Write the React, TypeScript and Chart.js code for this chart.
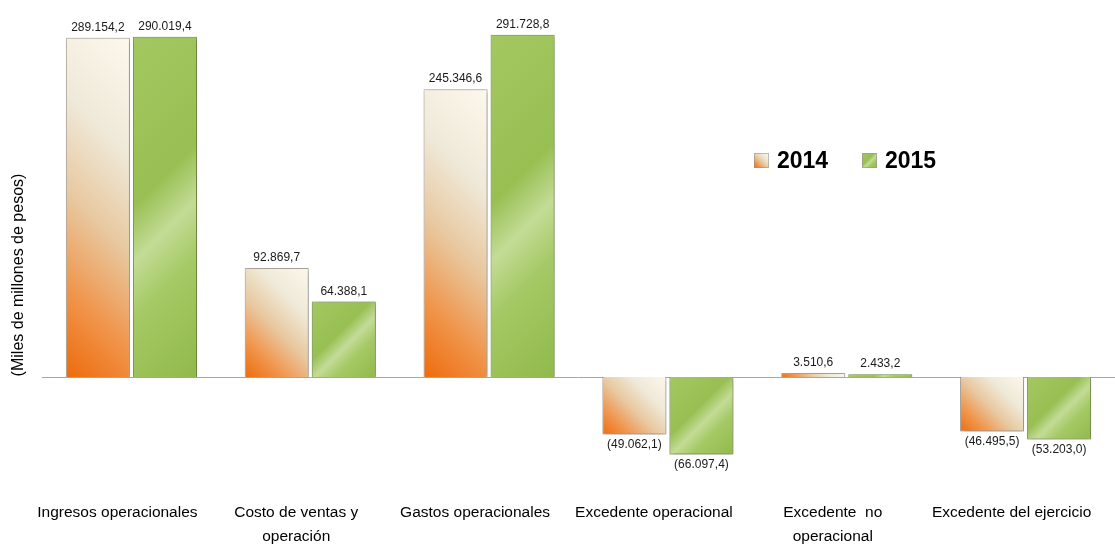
import React, { useEffect, useRef } from "react";
import { Chart, registerables } from "chart.js";

Chart.register(...registerables);

const categories: string[][] = [
  ["Ingresos operacionales"],
  ["Costo de ventas y", "operación"],
  ["Gastos operacionales"],
  ["Excedente operacional"],
  ["Excedente  no", "operacional"],
  ["Excedente del ejercicio"],
];
const seriesNames = ["2014", "2015"];
const values2014 = [289154.2, 92869.7, 245346.6, -49062.1, 3510.6, -46495.5];
const values2015 = [290019.4, 64388.1, 291728.8, -66097.4, 2433.2, -53203.0];
const yTitle = "(Miles de millones de pesos)";

const CAT_PCT = 0.75;
const BAR_PCT = 0.955;

function fmt(v: number): string {
  const abs = Math.abs(v);
  const [i, d] = abs.toFixed(1).split(".");
  const ii = i.replace(/\B(?=(\d{3})+(?!\d))/g, ".");
  const s = ii + "," + d;
  return v < 0 ? "(" + s + ")" : s;
}

function orangeGrad(ctx: CanvasRenderingContext2D, x0: number, yTop: number, w: number, h: number) {
  const d = (w + h) / 2;
  const yBot = yTop + h;
  const g = ctx.createLinearGradient(x0, yBot, x0 + d, yBot - d);
  g.addColorStop(0, "#EE6A0A");
  g.addColorStop(0.22, "#F0944A");
  g.addColorStop(0.46, "#E8C8A0");
  g.addColorStop(0.7, "#EFE9D8");
  g.addColorStop(1, "#FCF8EC");
  return g;
}

function greenGrad(ctx: CanvasRenderingContext2D, x0: number, yTop: number, w: number, h: number) {
  const d = (w + h) / 2;
  const g = ctx.createLinearGradient(x0, yTop, x0 + d, yTop + d);
  g.addColorStop(0, "#A3C862");
  g.addColorStop(0.42, "#98BF52");
  g.addColorStop(0.56, "#C3DC96");
  g.addColorStop(0.7, "#A5C965");
  g.addColorStop(1, "#90B94A");
  return g;
}

function barFill(dsIndex: number) {
  return (c: any) => {
    const chart = c.chart;
    const xs = chart.scales?.x;
    const ys = chart.scales?.y;
    if (!xs || !ys || c.type !== "data" || !chart.chartArea) {
      return dsIndex === 0 ? "#F0A060" : "#9DC35A";
    }
    const v = c.raw as number;
    const center = xs.getPixelForValue(c.dataIndex);
    const catW = xs.width / categories.length;
    const slot = (catW * CAT_PCT) / 2;
    const x0 = dsIndex === 0 ? center - slot : center;
    const yTop = ys.getPixelForValue(Math.max(v, 0));
    const yBot = ys.getPixelForValue(Math.min(v, 0));
    const h = Math.max(1, yBot - yTop);
    return dsIndex === 0
      ? orangeGrad(chart.ctx, x0, yTop, slot, h)
      : greenGrad(chart.ctx, x0, yTop, slot, h);
  };
}

const decorPlugin = {
  id: "decor",
  beforeDatasetsDraw(chart: any) {
    const { ctx, chartArea } = chart;
    const ys = chart.scales.y;
    const y0 = Math.round(ys.getPixelForValue(0)) + 0.5;
    ctx.save();
    ctx.strokeStyle = "#A6A6A6";
    ctx.lineWidth = 1;
    ctx.beginPath();
    ctx.moveTo(chartArea.left, y0);
    ctx.lineTo(chartArea.right, y0);
    ctx.stroke();
    ctx.restore();
    ctx.save();
    ctx.shadowColor = "rgba(0,0,0,0.4)";
    ctx.shadowBlur = 5;
    ctx.shadowOffsetX = 1;
    ctx.shadowOffsetY = 1;
  },
  afterDatasetsDraw(chart: any) {
    const { ctx } = chart;
    ctx.restore();
    ctx.save();
    ctx.font = "12px 'Liberation Sans', Arial, sans-serif";
    ctx.fillStyle = "#1a1a1a";
    ctx.textAlign = "center";
    chart.data.datasets.forEach((ds: any, di: number) => {
      const meta = chart.getDatasetMeta(di);
      meta.data.forEach((el: any, i: number) => {
        const v = ds.data[i] as number;
        if (v >= 0) {
          ctx.textBaseline = "bottom";
          ctx.fillText(fmt(v), el.x, el.y - 4);
        } else {
          ctx.textBaseline = "top";
          ctx.fillText(fmt(v), el.x, el.y + 4);
        }
      });
    });
    ctx.restore();
  },
  afterDraw(chart: any) {
    const { ctx } = chart;
    ctx.save();
    ctx.translate(19, 275);
    ctx.rotate(-Math.PI / 2);
    ctx.font = "16px 'Liberation Sans', Arial, sans-serif";
    ctx.fillStyle = "#000";
    ctx.textAlign = "center";
    ctx.textBaseline = "middle";
    ctx.fillText(yTitle, 0, 0);
    ctx.restore();
    ctx.save();
    const items = [
      { x: 754, name: seriesNames[0], grad: orangeGrad },
      { x: 862, name: seriesNames[1], grad: greenGrad },
    ];
    items.forEach((it) => {
      const sx = it.x, sy = 153, s = 15;
      ctx.fillStyle = it.grad(ctx, sx, sy, s, s);
      ctx.fillRect(sx, sy, s, s);
      ctx.strokeStyle = "rgba(150,150,150,0.6)";
      ctx.lineWidth = 1;
      ctx.strokeRect(sx + 0.5, sy + 0.5, s - 1, s - 1);
      ctx.fillStyle = "#000";
      ctx.font = "bold 23px 'Liberation Sans', Arial, sans-serif";
      ctx.textAlign = "left";
      ctx.textBaseline = "middle";
      ctx.fillText(it.name, sx + s + 8, sy + s / 2 + 1);
    });
    ctx.restore();
  },
};

export default function App() {
  const ref = useRef<HTMLCanvasElement | null>(null);
  useEffect(() => {
    if (!ref.current) return;
    const chart = new Chart(ref.current, {
      type: "bar",
      data: {
        labels: categories,
        datasets: [
          {
            label: seriesNames[0],
            data: values2014,
            backgroundColor: barFill(0),
            borderColor: "rgba(140,128,108,0.6)",
            borderWidth: 1,
            categoryPercentage: CAT_PCT,
            barPercentage: BAR_PCT,
          },
          {
            label: seriesNames[1],
            data: values2015,
            backgroundColor: barFill(1),
            borderColor: "#7E9C47",
            borderWidth: 1,
            categoryPercentage: CAT_PCT,
            barPercentage: BAR_PCT,
          },
        ],
      },
      options: {
        animation: false,
        responsive: false,
        maintainAspectRatio: false,
        layout: { padding: { left: 42, right: 0, top: 25, bottom: 0 } },
        plugins: {
          legend: { display: false },
          tooltip: { enabled: false },
        },
        scales: {
          x: {
            grid: { display: false, drawTicks: false },
            border: { display: false },
            afterFit: (scale: any) => {
              scale.height = 50;
            },
            ticks: {
              color: "#000",
              padding: 3,
              labelOffset: -14,
              maxRotation: 0,
              autoSkip: false,
              font: { family: "'Liberation Sans', Arial, sans-serif", size: 15.5, lineHeight: 1.55 },
            },
          },
          y: {
            display: false,
            min: -103100,
            max: 300000,
          },
        },
      },
      plugins: [decorPlugin],
    });
    return () => chart.destroy();
  }, []);
  return (
    <div style={{ position: "fixed", left: 0, top: 0, width: 1115, height: 548, background: "#fff" }}>
      <canvas ref={ref} width={1115} height={548} style={{ width: 1115, height: 548, display: "block" }} />
    </div>
  );
}
